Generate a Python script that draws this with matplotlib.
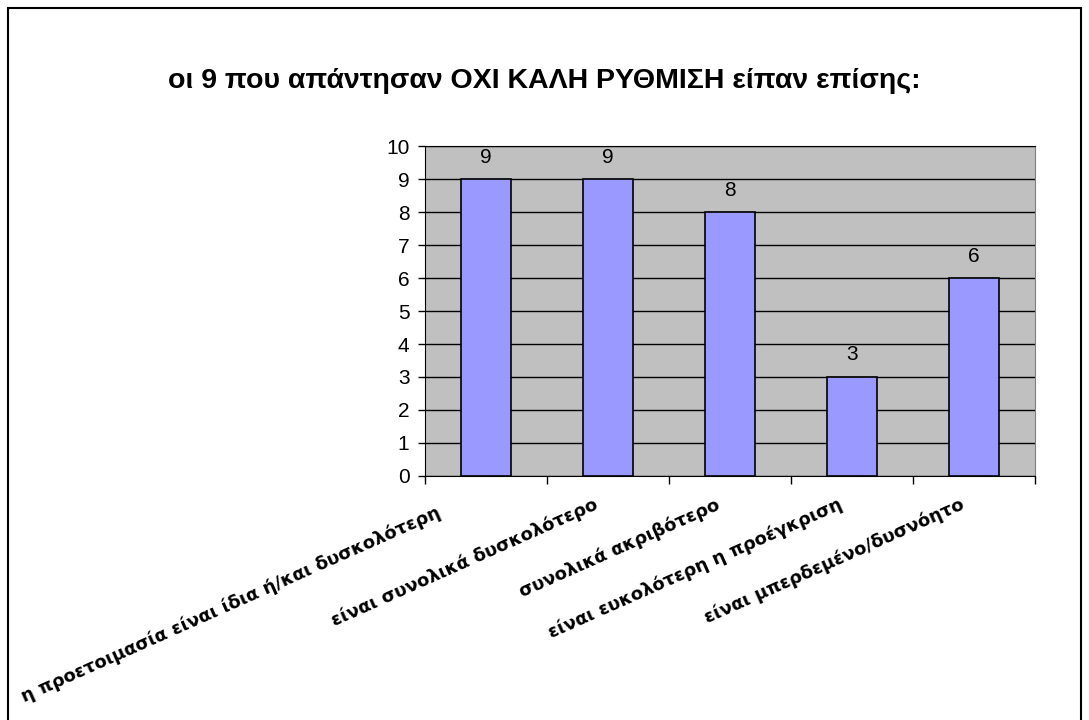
import matplotlib
matplotlib.use("Agg")
import matplotlib.pyplot as plt
import matplotlib.transforms as mtransforms
from matplotlib.patches import Rectangle

categories = [
    "η προετοιμασία είναι ίδια ή/και δυσκολότερη",
    "είναι συνολικά δυσκολότερο",
    "συνολικά ακριβότερο",
    "είναι ευκολότερη η προέγκριση",
    "είναι μπερδεμένο/δυσνόητο",
]
counts = [9, 9, 8, 3, 6]
title = "οι 9 που απάντησαν ΟΧΙ ΚΑΛΗ ΡΥΘΜΙΣΗ είπαν επίσης:"

f = plt.figure(figsize=(10.89, 7.2), dpi=100)
axis = f.add_axes([0.390, 0.339, 0.560, 0.458])

axis.set_facecolor("#C0C0C0")
xs = range(len(categories))
axis.bar(xs, counts, width=0.41, color="#9999FF", edgecolor="black", linewidth=1.2, zorder=3)

for x, v in zip(xs, counts):
    axis.annotate(str(v), (x, v), xytext=(0, 9), textcoords="offset points",
                  ha="center", va="bottom", fontsize=15, family="Liberation Sans")

axis.set_xlim(-0.5, len(categories) - 0.5)
axis.set_ylim(0, 10)
axis.set_yticks(range(0, 11))
axis.yaxis.grid(True, color="black", linewidth=1.0, zorder=1)
axis.set_axisbelow(True)
axis.tick_params(axis="y", direction="out", length=5, width=1, labelsize=15, pad=6)
for lab in axis.get_yticklabels():
    lab.set_family("Liberation Sans")

# category boundary ticks, labels at centres without ticks
axis.set_xticks([x - 0.5 for x in range(len(categories) + 1)], minor=True)
axis.set_xticks(list(xs))
axis.tick_params(axis="x", which="minor", direction="out", length=6, width=1)
axis.tick_params(axis="x", which="major", length=0, pad=14)
axis.set_xticklabels(categories, rotation=24, ha="right", va="top",
                     rotation_mode="anchor", fontsize=13, fontweight="bold",
                     family="DejaVu Sans")
shift = mtransforms.ScaledTranslation(-14 / 100, 0, f.dpi_scale_trans)
first_shift = mtransforms.ScaledTranslation(-36 / 100, -8 / 100, f.dpi_scale_trans)
for i, lab in enumerate(axis.get_xticklabels()):
    tr = lab.get_transform() + shift
    if i == 0:
        tr = tr + first_shift
    lab.set_transform(tr)

for side in ["left", "bottom", "top"]:
    axis.spines[side].set_color("black")
axis.spines["right"].set_color("#808080")

f.text(0.50, 0.887, title, ha="center", va="center", fontsize=20.5,
       fontweight="bold", family="Liberation Sans")

f.patches.append(Rectangle((0.007, -0.01), 0.986, 0.999, transform=f.transFigure,
                           fill=False, edgecolor="black", linewidth=1.5))

f.savefig("out.png", dpi=100)
